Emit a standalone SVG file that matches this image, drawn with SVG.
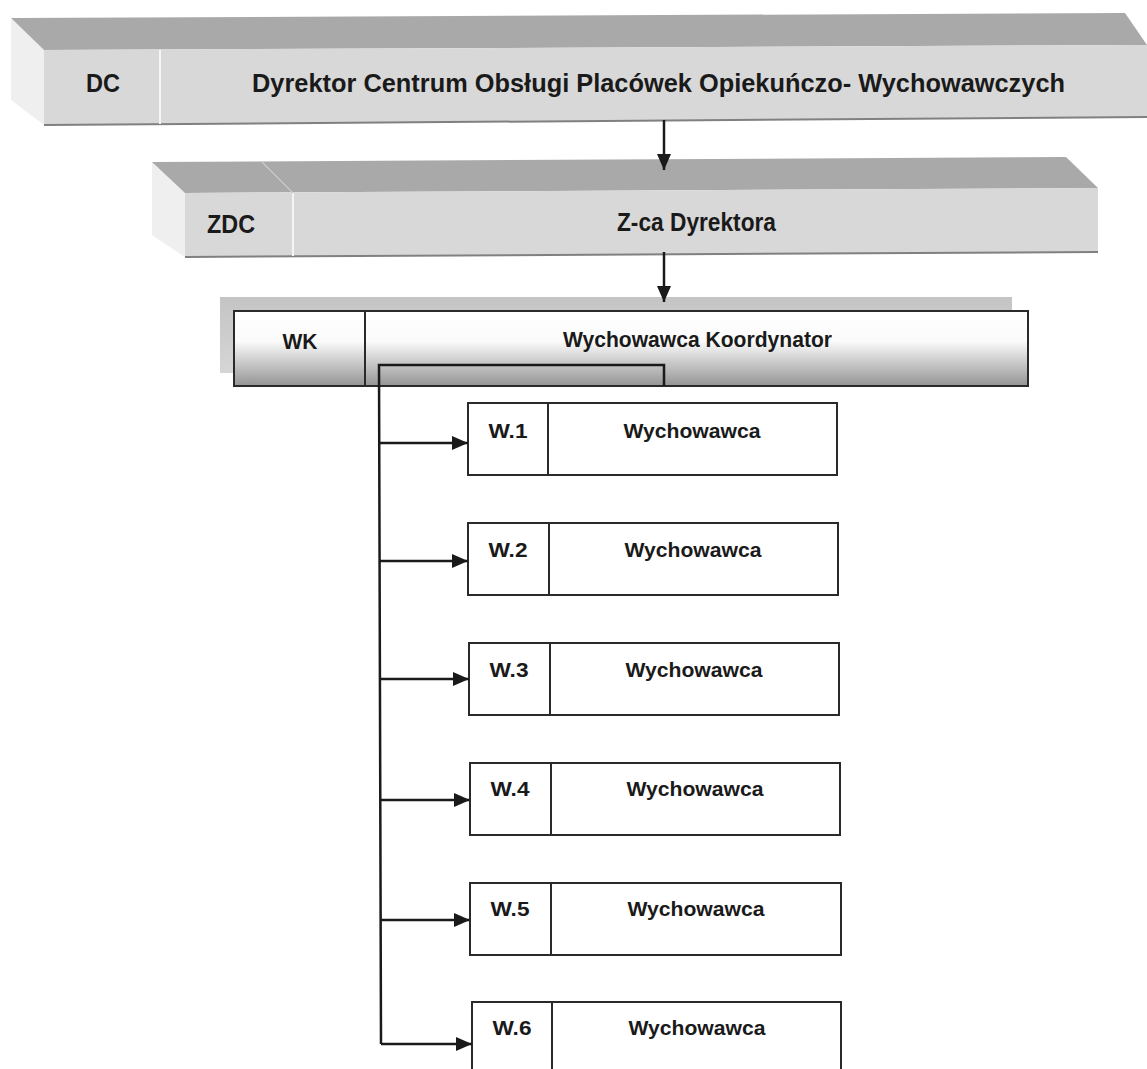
<svg xmlns="http://www.w3.org/2000/svg" width="1147" height="1069" viewBox="0 0 1147 1069">
<style>
  .t { font-family: "Liberation Sans", Arial, sans-serif; font-weight: bold; fill: #1a1a1a; }
  .bevel { fill: #a9a9a9; stroke: none; }
  .face { fill: #d8d8d8; stroke: none; }
  .side { fill: #efefef; stroke: none; }
  .edge { stroke: #808080; stroke-width: 2; fill: none; }
  .div { stroke: #f5f5f5; stroke-width: 2; }
  .box { fill: #ffffff; stroke: #2a2a2a; stroke-width: 2; }
  .conn { stroke: #1a1a1a; stroke-width: 2.5; fill: none; }
</style>
<defs>
  <marker id="arr" viewBox="0 0 16 14" refX="16" refY="7" markerWidth="16" markerHeight="14" markerUnits="userSpaceOnUse" orient="auto">
    <path d="M0,0 L16,7 L0,14 Z" fill="#1a1a1a"/>
  </marker>
  <linearGradient id="wkg" x1="0" y1="0" x2="0" y2="1">
    <stop offset="0" stop-color="#ffffff"/>
    <stop offset="0.4" stop-color="#fbfbfb"/>
    <stop offset="1" stop-color="#949494"/>
  </linearGradient>
  <linearGradient id="bandg" x1="0" y1="0" x2="0" y2="1">
    <stop offset="0" stop-color="#c4c4c4"/>
    <stop offset="1" stop-color="#d6d6d6"/>
  </linearGradient>
</defs>

<g id="node-DC">
  <polygon class="side" points="11,18 44,50 44,125 11,100"/>
  <polygon class="bevel" points="11,18 1125,13 1147,45 44,50"/>
  <polygon class="face" points="44,50 1147,45 1147,117 44,125"/>
  <line class="edge" x1="44" y1="125" x2="1147" y2="117"/>
  <line class="div" x1="160" y1="50" x2="160" y2="124"/>
  <text class="t" x="103" y="92" font-size="26" text-anchor="middle" textLength="34" lengthAdjust="spacingAndGlyphs">DC</text>
  <text class="t" x="252" y="92" font-size="26" textLength="813" lengthAdjust="spacingAndGlyphs">Dyrektor Centrum Obsługi Placówek Opiekuńczo- Wychowawczych</text>
</g>

<g id="node-ZDC">
  <polygon class="side" points="152,162 185,193 185,257 152,235"/>
  <polygon class="bevel" points="152,162 1066,157 1098,188 185,193"/>
  <polygon class="face" points="185,193 1098,188 1098,252 185,257"/>
  <line class="edge" x1="185" y1="257" x2="1098" y2="252"/>
  <line class="div" x1="293" y1="193" x2="293" y2="256"/>
  <line x1="262" y1="162" x2="293" y2="193" stroke="#c8c8c8" stroke-width="1.5"/>
  <text class="t" x="231" y="233" font-size="26" text-anchor="middle" textLength="48" lengthAdjust="spacingAndGlyphs">ZDC</text>
  <text class="t" x="617" y="231" font-size="26" textLength="159" lengthAdjust="spacingAndGlyphs">Z-ca Dyrektora</text>
</g>

<g id="node-WK">
  <rect x="220" y="297" width="792" height="76" fill="url(#bandg)"/>
  <rect x="234" y="311" width="794" height="75" fill="url(#wkg)" stroke="#2a2a2a" stroke-width="2"/>
  <line x1="365" y1="311" x2="365" y2="386" stroke="#2a2a2a" stroke-width="2"/>
  <text class="t" x="300" y="349" font-size="22" text-anchor="middle" textLength="35" lengthAdjust="spacingAndGlyphs">WK</text>
  <text class="t" x="563" y="347" font-size="22" textLength="269" lengthAdjust="spacingAndGlyphs">Wychowawca Koordynator</text>
</g>

<g id="node-W1">
  <rect class="box" x="468" y="403" width="369" height="72"/>
  <line class="box" x1="548" y1="403" x2="548" y2="475"/>
  <text class="t" x="508" y="438" font-size="21" text-anchor="middle" textLength="39" lengthAdjust="spacingAndGlyphs">W.1</text>
  <text class="t" x="692" y="438" font-size="21" text-anchor="middle" textLength="137" lengthAdjust="spacingAndGlyphs">Wychowawca</text>
</g>

<g id="node-W2">
  <rect class="box" x="468" y="523" width="370" height="72"/>
  <line class="box" x1="549" y1="523" x2="549" y2="595"/>
  <text class="t" x="508" y="557" font-size="21" text-anchor="middle" textLength="39" lengthAdjust="spacingAndGlyphs">W.2</text>
  <text class="t" x="693" y="557" font-size="21" text-anchor="middle" textLength="137" lengthAdjust="spacingAndGlyphs">Wychowawca</text>
</g>

<g id="node-W3">
  <rect class="box" x="469" y="643" width="370" height="72"/>
  <line class="box" x1="550" y1="643" x2="550" y2="715"/>
  <text class="t" x="509" y="677" font-size="21" text-anchor="middle" textLength="39" lengthAdjust="spacingAndGlyphs">W.3</text>
  <text class="t" x="694" y="677" font-size="21" text-anchor="middle" textLength="137" lengthAdjust="spacingAndGlyphs">Wychowawca</text>
</g>

<g id="node-W4">
  <rect class="box" x="470" y="763" width="370" height="72"/>
  <line class="box" x1="551" y1="763" x2="551" y2="835"/>
  <text class="t" x="510" y="796" font-size="21" text-anchor="middle" textLength="39" lengthAdjust="spacingAndGlyphs">W.4</text>
  <text class="t" x="695" y="796" font-size="21" text-anchor="middle" textLength="137" lengthAdjust="spacingAndGlyphs">Wychowawca</text>
</g>

<g id="node-W5">
  <rect class="box" x="470" y="883" width="371" height="72"/>
  <line class="box" x1="551" y1="883" x2="551" y2="955"/>
  <text class="t" x="510" y="916" font-size="21" text-anchor="middle" textLength="39" lengthAdjust="spacingAndGlyphs">W.5</text>
  <text class="t" x="696" y="916" font-size="21" text-anchor="middle" textLength="137" lengthAdjust="spacingAndGlyphs">Wychowawca</text>
</g>

<g id="node-W6">
  <rect class="box" x="472" y="1002" width="369" height="80"/>
  <line class="box" x1="552" y1="1002" x2="552" y2="1069"/>
  <text class="t" x="512" y="1035" font-size="21" text-anchor="middle" textLength="39" lengthAdjust="spacingAndGlyphs">W.6</text>
  <text class="t" x="697" y="1035" font-size="21" text-anchor="middle" textLength="137" lengthAdjust="spacingAndGlyphs">Wychowawca</text>
</g>

<g id="connectors">
  <line class="conn" x1="664" y1="120" x2="664" y2="170" marker-end="url(#arr)"/>
  <line class="conn" x1="664" y1="252" x2="664" y2="302" marker-end="url(#arr)"/>
  <path class="conn" d="M664,386 L664,365 L379,365 L381,1044"/>
  <line class="conn" x1="379" y1="443" x2="468" y2="443" marker-end="url(#arr)"/>
  <line class="conn" x1="379" y1="561" x2="468" y2="561" marker-end="url(#arr)"/>
  <line class="conn" x1="380" y1="679" x2="469" y2="679" marker-end="url(#arr)"/>
  <line class="conn" x1="380" y1="800" x2="470" y2="800" marker-end="url(#arr)"/>
  <line class="conn" x1="381" y1="920" x2="470" y2="920" marker-end="url(#arr)"/>
  <line class="conn" x1="381" y1="1044" x2="472" y2="1044" marker-end="url(#arr)"/>
</g>
</svg>
